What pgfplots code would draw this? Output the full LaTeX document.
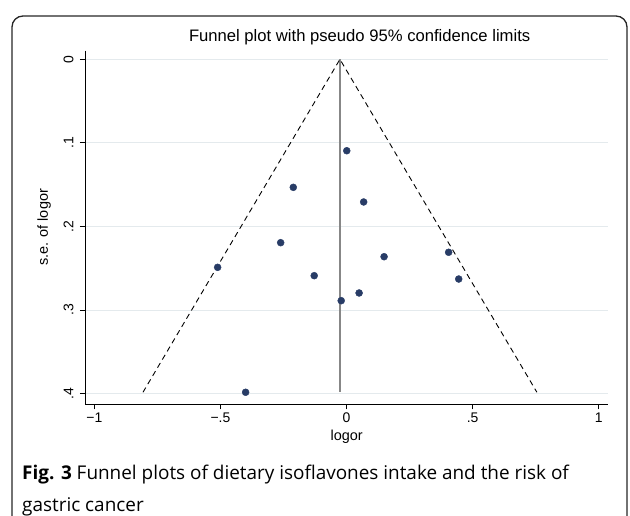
\documentclass[border=0pt]{standalone}
\usepackage{pgfplots}
\pgfplotsset{compat=1.18}
\usepackage{fontspec}
\setmainfont{Liberation Sans}
\newfontfamily\capfont{Open Sans}

\definecolor{gridc}{RGB}{228,234,237}
\definecolor{ptc}{RGB}{40,60,102}
\definecolor{nullc}{RGB}{135,135,135}

% study estimates: logor, s.e. of logor
\pgfplotstableread{
x      se
0.001  0.1094
-0.211 0.1532
0.068  0.1707
-0.261 0.2194
-0.511 0.2489
0.149  0.2362
0.405  0.2309
-0.128 0.2589
0.445  0.2629
0.050  0.2796
-0.021 0.2888
-0.400 0.3984
}\studies

\begin{document}
\begin{tikzpicture}
\useasboundingbox (0,0) rectangle (630bp,516bp);
\draw[line width=1.3bp, rounded corners=11bp, black!85]
  (12bp,-20bp) rectangle (627bp,500bp);

\begin{axis}[
    scale only axis,
    width=523.3bp, height=353.6bp,
    at={(85bp,111.7bp)}, anchor=south west,
    clip=false,
    xmin=-1.0369, xmax=1.0381,
    ymin=-0.0103, ymax=0.4128,
    y dir=reverse,
    axis x line=bottom, axis y line=left,
    axis line style={-, line width=0.9bp, black},
    xtick={-1,-0.5,0,0.5,1},
    xticklabels={−1,−.5,0,.5,1},
    ytick={0,0.1,0.2,0.3,0.4},
    yticklabels={0,.1,.2,.3,.4},
    tick align=outside,
    major tick length=5bp,
    tick style={black, line width=0.8bp},
    ticklabel style={font=\fontsize{14}{16}\selectfont},
    yticklabel style={rotate=90, anchor=south},
    yticklabel shift=3bp,
    ymajorgrids,
    grid style={gridc, line width=0.8bp},
    title={Funnel plot with pseudo 95\% confidence limits},
    title style={font=\fontsize{16.7}{19}\selectfont, xshift=13bp, yshift=-4bp},
    xlabel={logor},
    ylabel={s.e. of logor},
    ylabel shift=6bp,
    label style={font=\fontsize{14.5}{17}\selectfont},
]
\addplot[nullc, line width=2bp] coordinates {(-0.026,0) (-0.026,0.3984)};
\addplot[black, line width=0.9bp, dash pattern=on 5.5bp off 4bp]
  coordinates {(-0.807,0.3984) (-0.026,0) (0.755,0.3984)};
\addplot[only marks, mark=*, mark size=3.5bp,
  mark options={fill=ptc, draw=ptc}] table[x=x, y=se] {\studies};
\end{axis}

\node[anchor=base west, inner sep=0pt, font=\capfont\fontsize{19}{22}\selectfont]
  at (22bp,516bp-479bp)
  {\textbf{Fig. 3} Funnel plots of dietary isoflavones intake and the risk of};
\node[anchor=base west, inner sep=0pt, font=\capfont\fontsize{19}{22}\selectfont]
  at (22bp,516bp-511bp) {gastric cancer};
\end{tikzpicture}
\end{document}
